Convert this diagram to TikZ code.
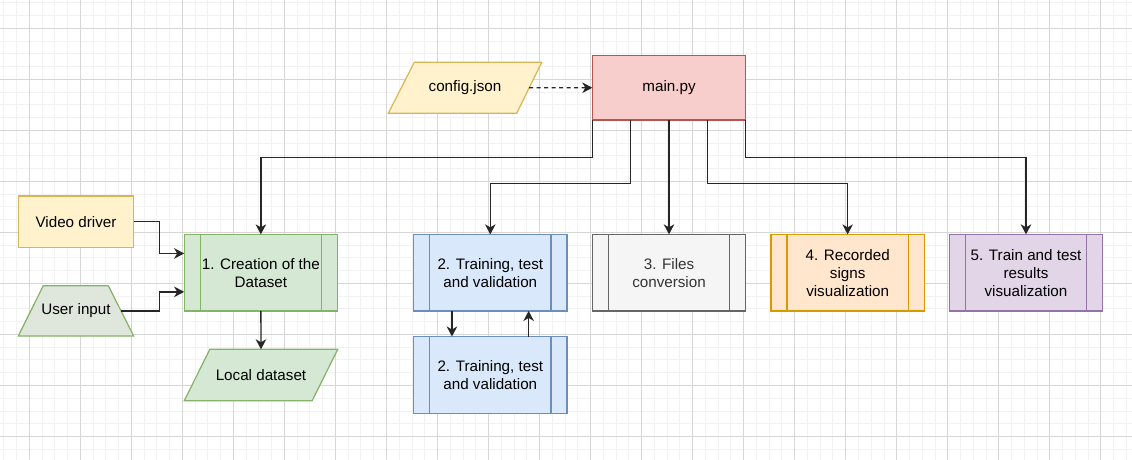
\documentclass[tikz,border=0pt]{standalone}
\usepackage{fontspec}
\setmainfont{Liberation Sans}
\usetikzlibrary{arrows.meta}
\definecolor{ylwF}{HTML}{FFF2CC}\definecolor{ylwD}{HTML}{D6B656}
\definecolor{redF}{HTML}{F8CECC}\definecolor{redD}{HTML}{B85450}
\definecolor{grnF}{HTML}{D5E8D4}\definecolor{grnD}{HTML}{82B366}
\definecolor{bluF}{HTML}{DAE8FC}\definecolor{bluD}{HTML}{6C8EBF}
\definecolor{gryF}{HTML}{F5F5F5}\definecolor{gryD}{HTML}{666666}\definecolor{gryT}{HTML}{333333}
\definecolor{orgF}{HTML}{FFE6CC}\definecolor{orgD}{HTML}{D79B00}
\definecolor{purF}{HTML}{E1D5E7}\definecolor{purD}{HTML}{9673A6}
\definecolor{uiF}{HTML}{DFE6DC}
\definecolor{gridMinor}{HTML}{F2F2F2}\definecolor{gridMajor}{HTML}{D6D6D6}
\tikzset{
  base/.style={line width=1.2pt, align=center, inner sep=0pt, outer sep=0pt, font=\fontsize{15.2}{18}\selectfont, text=black},
  procbox/.style 2 args={base, rectangle, fill=#1, draw=#2, minimum width=153.4pt, minimum height=76.6pt},
  plainbox/.style 2 args={base, rectangle, fill=#1, draw=#2},
  shapeline/.style={line width=1.2pt, line join=miter},
  innerline/.style={line width=1.2pt},
  conn/.style={line width=1.3pt, draw=black!85, -{Stealth[length=10pt,width=10.5pt,inset=3pt]}},
}
\begin{document}
\begin{tikzpicture}[x=1pt,y=-1pt]
\useasboundingbox (0,0) rectangle (1132,460);
\fill[white] (0,0) rectangle (1132,460);
% grid
\foreach \i in {0,...,89} {
  \draw[gridMinor, line width=1pt] ({3.78+12.757*\i},0) -- ({3.78+12.757*\i},460);
}
\foreach \i in {0,...,36} {
  \draw[gridMinor, line width=1pt] (0,{2.79+12.757*\i}) -- (1132,{2.79+12.757*\i});
}
\foreach \j in {0,...,21} {
  \draw[gridMajor, line width=1pt] ({29.3+51.03*\j},0) -- ({29.3+51.03*\j},460);
}
\foreach \j in {0,...,8} {
  \draw[gridMajor, line width=1pt] (0,{28.3+51.03*\j}) -- (1132,{28.3+51.03*\j});
}
% drawn shapes (parallelograms, trapezoid)
\draw[shapeline, fill=ylwF, draw=ylwD] (414.3,62.3) -- (541.7,62.3) -- (516.7,113.3) -- (388.3,113.3) -- cycle;
\draw[shapeline, fill=uiF, draw=grnD] (43.3,285.7) -- (108.3,285.7) -- (133.7,336) -- (18.3,336) -- cycle;
\draw[shapeline, fill=grnF, draw=grnD] (209.8,349.3) -- (337.7,349.3) -- (312.2,400.7) -- (184.3,400.7) -- cycle;
% nodes
\node[plainbox={redF}{redD}, minimum width=153.3pt, minimum height=64.5pt] (main) at (669,87.75) {main.py};
\node[base] (cfg) at (465,87.8) {config.json};
\coordinate (cfgR) at (529.2,87.8);
\node[plainbox={ylwF}{ylwD}, minimum width=115.4pt, minimum height=51.3pt] (vd) at (76,221.65) {Video driver};
\node[base] (ui) at (76,310.85) {User input};
\coordinate (uiR) at (121,310.85);
\node[procbox={grnF}{grnD}] (b1) at (260.85,272.65) {1. Creation of the\\Dataset};
\node[base] (ld) at (261,375) {Local dataset};
\coordinate (ldT) at (261,349.3);
\node[procbox={bluF}{bluD}] (b2) at (490.3,272.65) {2. Training, test\\and validation};
\node[procbox={bluF}{bluD}] (b2b) at (490.3,374.8) {2. Training, test\\and validation};
\node[procbox={gryF}{gryD}, text=gryT] (b3) at (669,272.65) {3. Files\\conversion};
\node[procbox={orgF}{orgD}] (b4) at (847.65,272.65) {4. Recorded\\signs\\visualization};
\node[procbox={purF}{purD}] (b5) at (1026,272.65) {5. Train and test\\results\\visualization};
% inner lines of process boxes
\foreach \n/\c in {b1/grnD, b2/bluD, b2b/bluD, b3/gryD, b4/orgD, b5/purD} {
  \draw[innerline, \c] ([xshift=16pt]\n.north west) -- ([xshift=16pt]\n.south west);
  \draw[innerline, \c] ([xshift=-16pt]\n.north east) -- ([xshift=-16pt]\n.south east);
}
% connectors
\draw[conn, dash pattern=on 4pt off 3.5pt] (cfgR) -- (main.west);
\draw[conn] (main.south west) -- ++(0,37.7) -| (b1.north);
\draw[conn] ([xshift=-38.35pt]main.south) -- ++(0,63.3) -| (b2.north);
\draw[conn] (main.south) -- (b3.north);
\draw[conn] ([xshift=38.35pt]main.south) -- ++(0,63.3) -| (b4.north);
\draw[conn] (main.south east) -- ++(0,37.7) -| (b5.north);
\draw[conn] (vd.east) -- ++(25.6,0) |- ([yshift=19.2pt]b1.west);
\draw[conn] (uiR) -- ++(38.3,0) |- ([yshift=-19.2pt]b1.west);
\draw[conn] (b1.south) -- (ldT);
\draw[conn] ([xshift=-38.35pt]b2.south) -- ([xshift=-38.35pt]b2b.north);
\draw[conn] ([xshift=38.35pt]b2b.north) -- ([xshift=38.35pt]b2.south);
\end{tikzpicture}
\end{document}
